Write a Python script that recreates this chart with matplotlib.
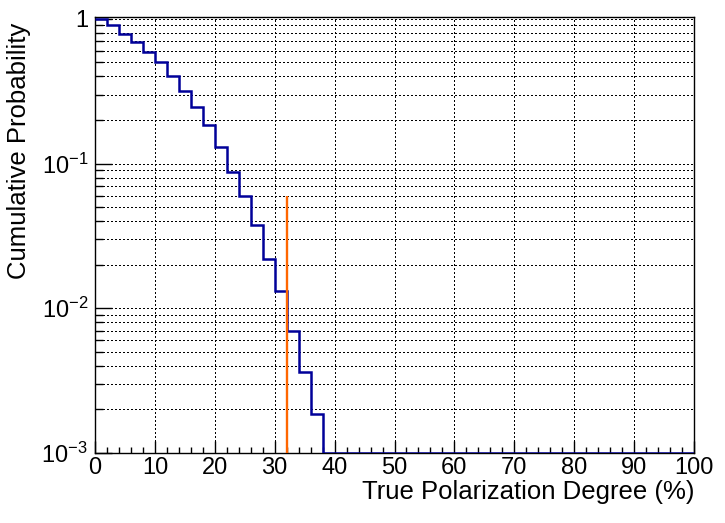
import numpy as np
import matplotlib
matplotlib.use("Agg")
import matplotlib.pyplot as plt
from matplotlib.ticker import LogLocator, FixedLocator, MultipleLocator, FuncFormatter

plt.rcParams['font.family'] = ['Liberation Sans', 'DejaVu Sans']
plt.rcParams['mathtext.fontset'] = 'custom'
plt.rcParams['mathtext.rm'] = 'Liberation Sans'

# histogram: 2% wide bins from 0 to 100, cumulative probability
bin_edges = list(range(0, 102, 2))
cum_prob = [1.0, 0.909, 0.791, 0.697, 0.593, 0.506, 0.405, 0.319, 0.247, 0.184,
            0.131, 0.0875, 0.0596, 0.0374, 0.0220, 0.0131, 0.00692, 0.00365, 0.00186] + [0.0] * 31

# measured value marker
marker_x = 32.0
marker_top = 0.0596

y_min, y_max = 1e-3, 1.03

fig = plt.figure(figsize=(7.25, 5.23), dpi=100)
ax = fig.add_axes([95 / 725, 1 - 453 / 523, 599 / 725, 436 / 523])

# ROOT draws empty bins at the bottom of a log axis
shown = np.where(np.array(cum_prob) > 0, cum_prob, y_min)
ax.stairs(shown, bin_edges, baseline=None, color='#000099', linewidth=1.8, zorder=3)
ax.vlines(marker_x, y_min, marker_top, color='#ff6600', linewidth=1.7, zorder=4)

ax.set_yscale('log')
ax.set_xlim(0, 100)
ax.set_ylim(y_min, y_max)

ax.xaxis.set_major_locator(MultipleLocator(10))
ax.xaxis.set_minor_locator(MultipleLocator(2))
ax.yaxis.set_major_locator(FixedLocator([1e-3, 1e-2, 1e-1, 1]))
ax.yaxis.set_minor_locator(LogLocator(base=10, subs=np.arange(2, 10)))


def yfmt(v, pos):
    if abs(v - 1) < 1e-9:
        return '1'
    e = int(round(np.log10(v)))
    return r'$\mathregular{10^{%d}}$' % e


ax.yaxis.set_major_formatter(FuncFormatter(yfmt))
ax.yaxis.set_minor_formatter(FuncFormatter(lambda v, p: ''))

ax.tick_params(axis='both', which='both', direction='in', top=False, right=False, labelsize=17)
ax.tick_params(axis='x', which='major', length=8.6, width=1, pad=3)
ax.tick_params(axis='x', which='minor', length=4.3, width=1)
ax.tick_params(axis='y', which='major', length=12, width=1, pad=5)
ax.tick_params(axis='y', which='minor', length=5.8, width=1)

# crisp dotted grid like ROOT
grid_style = dict(color='black', linestyle=(0, (1, 2)), linewidth=0.75, antialiased=False)
ax.grid(True, which='major', axis='both', **grid_style)
ax.grid(True, which='minor', axis='y', **grid_style)

for s in ax.spines.values():
    s.set_linewidth(1)

ax.set_xlabel('True Polarization Degree (%)', fontsize=18.5, loc='right')
ax.xaxis.set_label_coords(1.0, -0.062)
ax.set_ylabel('Cumulative Probability', fontsize=18.5, loc='top')
ax.yaxis.set_label_coords(-0.107, 0.986)

fig.savefig('out.png', dpi=100)
